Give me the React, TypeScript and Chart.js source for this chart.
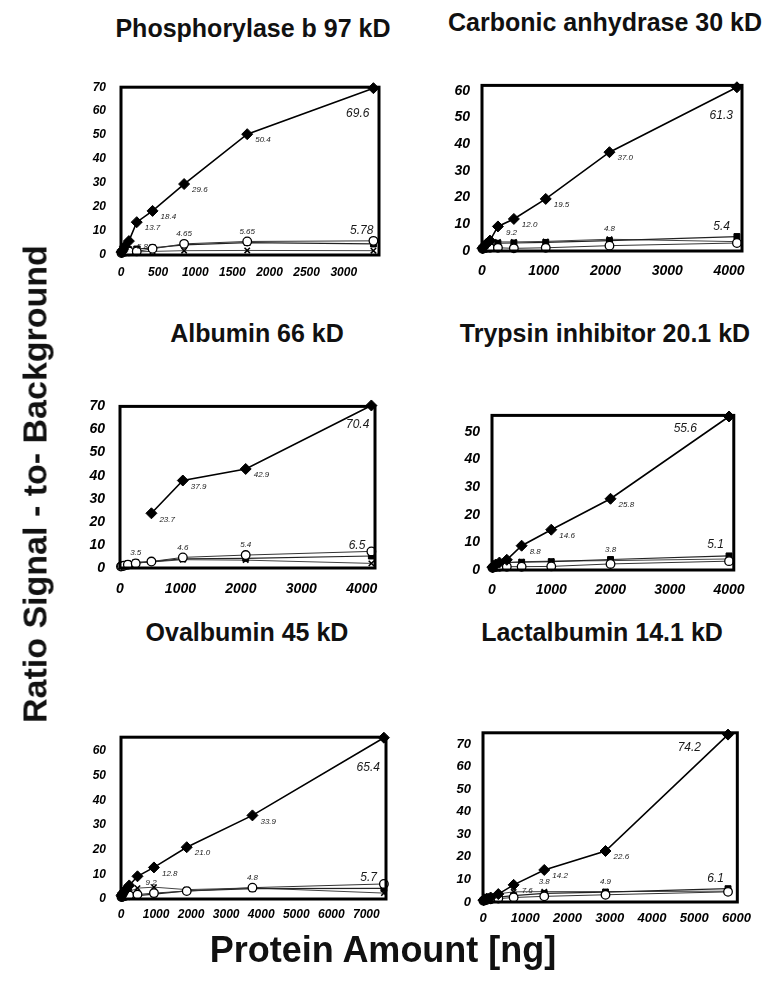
import React, { useEffect, useRef } from 'react';
import { Chart, registerables } from 'chart.js';
Chart.register(...registerables);

const FONT = '"Liberation Sans", Arial, Helvetica, sans-serif';

// ---------------- data ----------------
const phosTitle = 'Phosphorylase b 97 kD';
const phosX = [6.6, 13.3, 26.6, 53, 106, 212, 425, 850, 1700, 3400];
const phosDiamond = [1.2, 1.6, 2.2, 3.6, 5.8, 13.7, 18.4, 29.6, 50.4, 69.6];
const phosSquare = [1.0, 1.2, 1.5, 1.8, 2.2, 2.5, 3.0, 4.2, 5.2, 4.6];
const phosCircle = [0.8, 1.0, 1.2, 1.4, 1.5, 1.5, 2.6, 4.65, 5.65, 5.9];
const phosCross = [0.8, 0.9, 1.0, 1.1, 1.2, 1.3, 1.5, 1.8, 1.9, 1.8];
const phosDiamondLabels = ['', '', '', '', '5.8', '13.7', '18.4', '29.6', '50.4', '69.6'];
const phosLowerLabels = ['', '', '', '', '', '', '', '4.65', '5.65', '5.78'];
const phosXTicks = [0, 500, 1000, 1500, 2000, 2500, 3000];
const phosYTicks = [0, 10, 20, 30, 40, 50, 60, 70];

const carbTitle = 'Carbonic anhydrase 30 kD';
const carbX = [8, 16, 32, 64, 129, 258, 516, 1032, 2064, 4128];
const carbDiamond = [1.0, 1.3, 1.8, 2.5, 3.9, 9.2, 12.0, 19.5, 37.0, 61.3];
const carbSquare = [0.9, 1.1, 1.4, 1.8, 2.4, 2.9, 3.0, 3.2, 3.9, 5.4];
const carbCircle = [0.8, 0.9, 1.0, 1.1, 1.2, 1.2, 1.0, 1.2, 2.0, 3.0];
const carbCross = [0.9, 1.2, 1.6, 2.2, 2.8, 3.4, 3.4, 3.6, 4.4, 3.5];
const carbDiamondLabels = ['', '', '', '', '', '9.2', '12.0', '19.5', '37.0', '61.3'];
const carbLowerLabels = ['', '', '', '', '', '', '', '', '4.8', '5.4'];
const carbXTicks = [0, 1000, 2000, 3000, 4000];
const carbYTicks = [0, 10, 20, 30, 40, 50, 60];

const albTitle = 'Albumin 66 kD';
const albX = [16, 32, 65, 130, 260, 520, 1040, 2080, 4160];
const albDiamond = [null, null, null, null, null, 23.7, 37.9, 42.9, 70.4];
const albSquare = [0.8, 1.0, 1.3, 1.8, 2.4, 2.8, 4.0, 4.2, 5.2];
const albCircle = [0.6, 0.8, 1.0, 1.4, 2.0, 2.8, 4.6, 5.6, 7.2];
const albCross = [0.7, 0.9, 1.2, 1.6, 2.2, 2.6, 3.6, 3.4, 2.0];
const albDiamondLabels = ['', '', '', '', '', '23.7', '37.9', '42.9', '70.4'];
const albLowerLabels = ['', '', '', '', '3.5', '', '4.6', '5.4', '6.5'];
const albXTicks = [0, 1000, 2000, 3000, 4000];
const albYTicks = [0, 10, 20, 30, 40, 50, 60, 70];

const trypTitle = 'Trypsin inhibitor 20.1 kD';
const trypX = [7.8, 15.6, 31, 62.5, 125, 250, 500, 1000, 2000, 4000];
const trypDiamond = [1.0, 1.2, 1.5, 2.0, 2.7, 3.7, 8.8, 14.6, 25.8, 55.6];
const trypSquare = [0.9, 1.0, 1.3, 1.7, 2.2, 2.8, 2.8, 3.0, 3.8, 5.1];
const trypCircle = [0.8, 0.9, 1.0, 1.1, 1.2, 1.2, 1.2, 1.3, 2.2, 3.2];
const trypCross = [0.9, 1.1, 1.4, 1.8, 2.3, 2.6, 3.0, 3.2, 3.4, 4.0];
const trypDiamondLabels = ['', '', '', '', '', '', '8.8', '14.6', '25.8', '55.6'];
const trypLowerLabels = ['', '', '', '', '', '', '', '', '3.8', '5.1'];
const trypXTicks = [0, 1000, 2000, 3000, 4000];
const trypYTicks = [0, 10, 20, 30, 40, 50];

const ovalTitle = 'Ovalbumin 45 kD';
const ovalX = [14.6, 29, 59, 117, 235, 470, 940, 1875, 3750, 7500];
const ovalDiamond = [1.3, 1.8, 2.5, 3.5, 5.5, 9.2, 12.8, 21.0, 33.9, 65.4];
const ovalSquare = [0.9, 1.0, 1.1, 1.2, 1.3, 1.4, 2.0, 3.3, 4.2, 4.3];
const ovalCircle = [0.8, 0.9, 1.0, 1.2, 1.5, 1.8, 2.4, 3.2, 4.6, 6.1];
const ovalCross = [1.0, 1.2, 1.6, 2.2, 3.0, 4.4, 4.8, 3.8, 4.5, 2.4];
const ovalDiamondLabels = ['', '', '', '', '', '9.2', '12.8', '21.0', '33.9', '65.4'];
const ovalLowerLabels = ['', '', '', '', '', '', '', '', '4.8', '5.7'];
const ovalXTicks = [0, 1000, 2000, 3000, 4000, 5000, 6000, 7000];
const ovalYTicks = [0, 10, 20, 30, 40, 50, 60];

const lactTitle = 'Lactalbumin 14.1 kD';
const lactX = [11, 22.6, 45, 90, 181, 362, 725, 1450, 2900, 5800];
const lactDiamond = [0.8, 1.0, 1.2, 1.5, 2.0, 3.5, 7.6, 14.2, 22.6, 74.2];
const lactSquare = [0.7, 0.8, 1.0, 1.2, 1.6, 2.2, 2.8, 3.8, 4.4, 5.9];
const lactCircle = [0.6, 0.7, 0.8, 1.0, 1.2, 1.5, 2.0, 2.5, 3.2, 4.5];
const lactCross = [0.8, 1.0, 1.3, 1.8, 2.6, 3.6, 4.5, 4.6, 4.6, 4.8];
const lactDiamondLabels = ['', '', '', '', '', '', '7.6', '14.2', '22.6', '74.2'];
const lactLowerLabels = ['', '', '', '', '', '', '', '3.8', '4.9', '6.1'];
const lactXTicks = [0, 1000, 2000, 3000, 4000, 5000, 6000];
const lactYTicks = [0, 10, 20, 30, 40, 50, 60, 70];

const yAxisTitle = 'Ratio Signal - to- Background';
const xAxisTitle = 'Protein Amount [ng]';

// ---------------- layout ----------------
type Panel = {
  title: string;
  x: number[];
  diamond: (number | null)[];
  square: number[];
  circle: number[];
  cross: number[];
  dLabels: string[];
  lLabels: string[];
  xTicks: number[];
  yTicks: number[];
  xMax: number;
  yMax: number;
  box: { l: number; t: number; r: number; b: number };
  titleAt: { x: number; y: number };
  tick: number;
  xPad: number;
  yPad: number;
  bigD: { dx: number; dy: number };
  bigL: { dx: number; dy: number };
};

const panels: Panel[] = [
  {
    title: phosTitle, x: phosX, diamond: phosDiamond, square: phosSquare, circle: phosCircle, cross: phosCross,
    dLabels: phosDiamondLabels, lLabels: phosLowerLabels, xTicks: phosXTicks, yTicks: phosYTicks, xMax: 3475, yMax: 70,
    box: { l: 121, t: 79, r: 379, b: 255 }, titleAt: { x: 253, y: 28 }, tick: 12, xPad: 10, yPad: 15,
    bigD: { dx: -4, dy: 25 }, bigL: { dx: 0, dy: -10 },
  },
  {
    title: carbTitle, x: carbX, diamond: carbDiamond, square: carbSquare, circle: carbCircle, cross: carbCross,
    dLabels: carbDiamondLabels, lLabels: carbLowerLabels, xTicks: carbXTicks, yTicks: carbYTicks, xMax: 4210, yMax: 62,
    box: { l: 482, t: 79, r: 742, b: 251 }, titleAt: { x: 605, y: 22 }, tick: 14, xPad: 12, yPad: 12,
    bigD: { dx: -4, dy: 28 }, bigL: { dx: -7, dy: -10 },
  },
  {
    title: albTitle, x: albX, diamond: albDiamond, square: albSquare, circle: albCircle, cross: albCross,
    dLabels: albDiamondLabels, lLabels: albLowerLabels, xTicks: albXTicks, yTicks: albYTicks, xMax: 4220, yMax: 70,
    box: { l: 120, t: 397, r: 375, b: 568 }, titleAt: { x: 257, y: 333 }, tick: 14, xPad: 13, yPad: 15,
    bigD: { dx: -2, dy: 19 }, bigL: { dx: -6, dy: -6 },
  },
  {
    title: trypTitle, x: trypX, diamond: trypDiamond, square: trypSquare, circle: trypCircle, cross: trypCross,
    dLabels: trypDiamondLabels, lLabels: trypLowerLabels, xTicks: trypXTicks, yTicks: trypYTicks, xMax: 4080, yMax: 56,
    box: { l: 492, t: 409, r: 737, b: 570 }, titleAt: { x: 605, y: 333 }, tick: 14, xPad: 12, yPad: 12,
    bigD: { dx: -32, dy: 12 }, bigL: { dx: -5, dy: -11 },
  },
  {
    title: ovalTitle, x: ovalX, diamond: ovalDiamond, square: ovalSquare, circle: ovalCircle, cross: ovalCross,
    dLabels: ovalDiamondLabels, lLabels: ovalLowerLabels, xTicks: ovalXTicks, yTicks: ovalYTicks, xMax: 7560, yMax: 65.6,
    box: { l: 121, t: 729, r: 386, b: 899 }, titleAt: { x: 247, y: 632 }, tick: 12, xPad: 8, yPad: 15,
    bigD: { dx: -4, dy: 30 }, bigL: { dx: -7, dy: -6 },
  },
  {
    title: lactTitle, x: lactX, diamond: lactDiamond, square: lactSquare, circle: lactCircle, cross: lactCross,
    dLabels: lactDiamondLabels, lLabels: lactLowerLabels, xTicks: lactXTicks, yTicks: lactYTicks, xMax: 6020, yMax: 75,
    box: { l: 483, t: 727, r: 740, b: 902 }, titleAt: { x: 602, y: 632 }, tick: 13, xPad: 9, yPad: 12,
    bigD: { dx: -27, dy: 13 }, bigL: { dx: -4, dy: -10 },
  },
];

const LEFT = 70;
const TOP = 14;
const RIGHT = 20;
const BOTTOM = 40;

function PanelChart({ p }: { p: Panel }) {
  const ref = useRef<HTMLCanvasElement>(null);
  const w = p.box.r - p.box.l;
  const h = p.box.b - p.box.t;
  const cw = w + LEFT + RIGHT;
  const ch = h + TOP + BOTTOM;

  useEffect(() => {
    const pts = (arr: (number | null)[]) => p.x.map((x, i) => ({ x, y: arr[i] }));
    const tickFont = { family: FONT, size: p.tick, weight: 'bold' as const, style: 'italic' as const };

    const framePlugin = {
      id: 'frame',
      afterDatasetsDraw(chart: any) {
        const { ctx, chartArea: a } = chart;
        ctx.save();
        ctx.lineWidth = 3;
        ctx.strokeStyle = '#000';
        ctx.strokeRect(a.left, a.top, a.right - a.left, a.bottom - a.top);
        ctx.restore();
      },
    };

    const labelPlugin = {
      id: 'valueLabels',
      afterDatasetsDraw(chart: any) {
        const ctx = chart.ctx;
        const n = p.x.length;
        const dMeta = chart.getDatasetMeta(0);
        const lower = [1, 2, 3].map((i) => chart.getDatasetMeta(i));
        ctx.save();
        ctx.fillStyle = '#1a1a1a';
        ctx.textBaseline = 'middle';
        p.dLabels.forEach((t, i) => {
          if (!t) return;
          const el = dMeta.data[i];
          if (!el) return;
          if (i === n - 1) {
            ctx.font = `italic 12px ${FONT}`;
            ctx.textAlign = 'right';
            ctx.fillText(t, el.x + p.bigD.dx, el.y + p.bigD.dy);
          } else {
            ctx.font = `italic 8px ${FONT}`;
            ctx.textAlign = 'left';
            ctx.fillText(t, el.x + 8, el.y + 6);
          }
        });
        p.lLabels.forEach((t, i) => {
          if (!t) return;
          let top = Infinity;
          let x = 0;
          lower.forEach((m: any) => {
            const el = m.data[i];
            if (el && !el.skip && el.y < top) {
              top = el.y;
              x = el.x;
            }
          });
          if (i === n - 1) {
            ctx.font = `italic 12px ${FONT}`;
            ctx.textAlign = 'right';
            ctx.fillText(t, x + p.bigL.dx, top + p.bigL.dy);
          } else {
            ctx.font = `italic 8px ${FONT}`;
            ctx.textAlign = 'center';
            ctx.fillText(t, x, top - 10);
          }
        });
        ctx.restore();
      },
    };

    const chart = new Chart(ref.current as HTMLCanvasElement, {
      type: 'scatter',
      data: {
        datasets: [
          {
            data: pts(p.diamond) as any,
            showLine: true,
            borderColor: '#000',
            borderWidth: 1.6,
            pointStyle: 'rectRot',
            pointRadius: 5.5,
            pointBackgroundColor: '#000',
            pointBorderColor: '#000',
            pointBorderWidth: 1,
            clip: 10,
          },
          {
            data: pts(p.circle) as any,
            showLine: true,
            borderColor: '#333',
            borderWidth: 1,
            pointStyle: 'circle',
            pointRadius: 4.3,
            pointBackgroundColor: '#fff',
            pointBorderColor: '#000',
            pointBorderWidth: 1.3,
            clip: 10,
          },
          {
            data: pts(p.square) as any,
            showLine: true,
            borderColor: '#222',
            borderWidth: 1.2,
            pointStyle: 'rect',
            pointRadius: 4.2,
            pointBackgroundColor: '#000',
            pointBorderColor: '#000',
            pointBorderWidth: 1,
            clip: 10,
          },
          {
            data: pts(p.cross) as any,
            showLine: true,
            borderColor: '#444',
            borderWidth: 1,
            pointStyle: 'crossRot',
            pointRadius: 3.8,
            pointBorderColor: '#000',
            pointBorderWidth: 1.5,
            clip: 10,
          },
        ],
      },
      options: {
        responsive: false,
        animation: false,
        layout: { padding: { left: 0, top: TOP, right: RIGHT, bottom: 0 } },
        plugins: {
          legend: { display: false },
          tooltip: { enabled: false },
          title: { display: false },
        },
        scales: {
          x: {
            type: 'linear',
            min: 0,
            max: p.xMax,
            grid: { display: false, drawTicks: false },
            border: { display: false },
            ticks: {
              autoSkip: false,
              maxRotation: 0,
              minRotation: 0,
              padding: p.xPad,
              color: '#000',
              font: tickFont,
              callback: (v: any) => String(v),
            },
            afterBuildTicks: (s: any) => {
              s.ticks = p.xTicks.map((value) => ({ value }));
            },
            afterFit: (s: any) => {
              s.height = BOTTOM;
            },
          },
          y: {
            type: 'linear',
            min: 0,
            max: p.yMax,
            grid: { display: false, drawTicks: false },
            border: { display: false },
            ticks: {
              autoSkip: false,
              padding: p.yPad,
              color: '#000',
              font: tickFont,
              callback: (v: any) => String(v),
            },
            afterBuildTicks: (s: any) => {
              s.ticks = p.yTicks.map((value) => ({ value }));
            },
            afterFit: (s: any) => {
              s.width = LEFT;
            },
          },
        },
      } as any,
      plugins: [framePlugin, labelPlugin],
    });
    return () => chart.destroy();
  }, []);

  return (
    <>
      <div
        style={{
          position: 'absolute',
          left: p.titleAt.x,
          top: p.titleAt.y,
          transform: 'translate(-50%, -50%)',
          whiteSpace: 'nowrap',
          font: `bold 25px ${FONT}`,
          color: '#111',
        }}
      >
        {p.title}
      </div>
      <canvas
        ref={ref}
        width={cw}
        height={ch}
        style={{ position: 'absolute', left: p.box.l - LEFT, top: p.box.t - TOP, width: cw, height: ch }}
      />
    </>
  );
}

export default function App() {
  return (
    <div
      style={{
        position: 'absolute',
        left: 0,
        top: 0,
        width: 767,
        height: 996,
        overflow: 'hidden',
        background: '#fff',
      }}
    >
      {panels.map((p, i) => (
        <PanelChart key={i} p={p} />
      ))}
      <div
        style={{
          position: 'absolute',
          left: 35,
          top: 484,
          transform: 'translate(-50%, -50%) rotate(-90deg)',
          whiteSpace: 'nowrap',
          font: `bold 34px ${FONT}`,
          color: '#111',
        }}
      >
        {yAxisTitle}
      </div>
      <div
        style={{
          position: 'absolute',
          left: 383,
          top: 950,
          transform: 'translate(-50%, -50%)',
          whiteSpace: 'nowrap',
          font: `bold 36px ${FONT}`,
          color: '#111',
        }}
      >
        {xAxisTitle}
      </div>
    </div>
  );
}
